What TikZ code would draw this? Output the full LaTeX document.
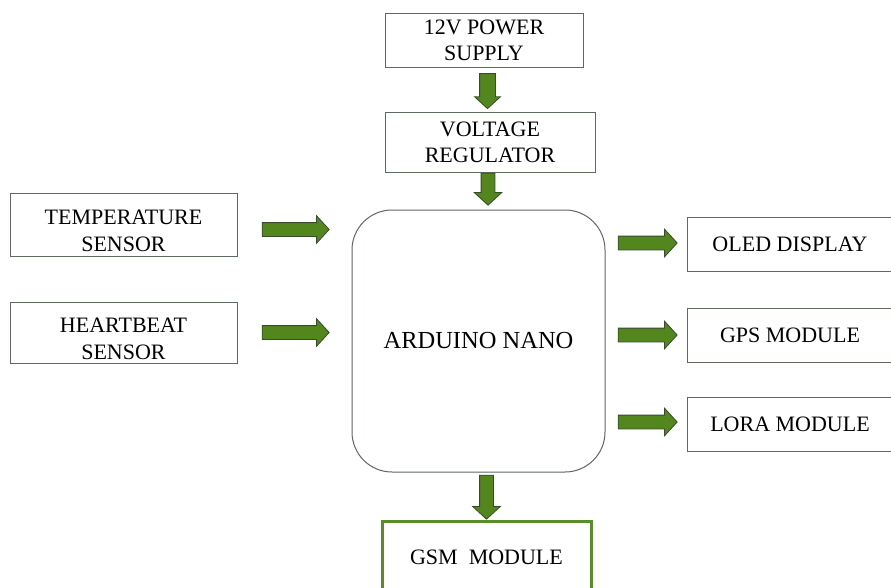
\documentclass[tikz,border=0pt]{standalone}
\usepackage{fontspec}
\setmainfont{Liberation Serif}
\usetikzlibrary{shapes.arrows}
\definecolor{boxline}{RGB}{95,105,95}
\definecolor{arrfill}{RGB}{84,134,30}
\definecolor{arrline}{RGB}{55,75,45}
\definecolor{gsmline}{RGB}{90,140,40}
\begin{document}
\begin{tikzpicture}[x=1pt,y=-1pt,
  blk/.style={draw=boxline, line width=1pt, fill=white, align=center,
    font=\fontsize{22}{26}\selectfont, inner sep=0pt},
  lowtext/.style={label={[align=center, font=\fontsize{22}{27}\selectfont, yshift=-6pt]center:#1}},
  barrow/.style={single arrow, draw=arrline, fill=arrfill, line width=0.8pt,
    inner xsep=0pt, inner ysep=6.5pt, minimum height=#1,
    single arrow head extend=7pt, single arrow tip angle=95}]
\useasboundingbox[fill=white] (0,0) rectangle (891,587);

% blocks
\node[blk, minimum width=198pt, minimum height=54pt] (ps) at (484,40) {12V POWER\\SUPPLY};
\node[blk, minimum width=210pt, minimum height=60pt] (vr) at (490,142) {VOLTAGE\\REGULATOR};
\node[blk, minimum width=253pt, minimum height=262pt, rounded corners=40pt,
      font=\fontsize{24.5}{28}\selectfont] (ard) at (478.5,341) {ARDUINO NANO};
\node[blk, minimum width=227pt, minimum height=63pt, lowtext={TEMPERATURE\\SENSOR}] (ts) at (123.5,224.5) {};
\node[blk, minimum width=227pt, minimum height=61pt, lowtext={HEARTBEAT\\SENSOR}] (hb) at (123.5,332.5) {};
\node[blk, minimum width=206pt, minimum height=54pt] (oled) at (790,244) {OLED DISPLAY};
\node[blk, minimum width=206pt, minimum height=54pt] (gps) at (790,335) {GPS MODULE};
\node[blk, minimum width=206pt, minimum height=54pt] (lora) at (790,424) {LORA MODULE};
\node[blk, draw=gsmline, line width=3pt, minimum width=209pt, minimum height=72pt] (gsm) at (486.5,557) {GSM\ \ MODULE};

% block arrows
\node[barrow=35pt, rotate=-90, inner ysep=7.5pt, single arrow head extend=5pt] (a1) at (487.5,87.5) {};
\node[barrow=32pt, rotate=-90] (a2) at (488,186) {};
\node[barrow=67pt] (a3) at (292.5,229.5) {};
\node[barrow=67pt] (a4) at (292.5,332.5) {};
\node[barrow=59pt] (a5) at (644.5,243) {};
\node[barrow=59pt] (a6) at (644.5,335) {};
\node[barrow=59pt] (a7) at (644.5,422) {};
\node[barrow=44pt, rotate=-90] (a8) at (486.5,494) {};
\end{tikzpicture}
\end{document}
